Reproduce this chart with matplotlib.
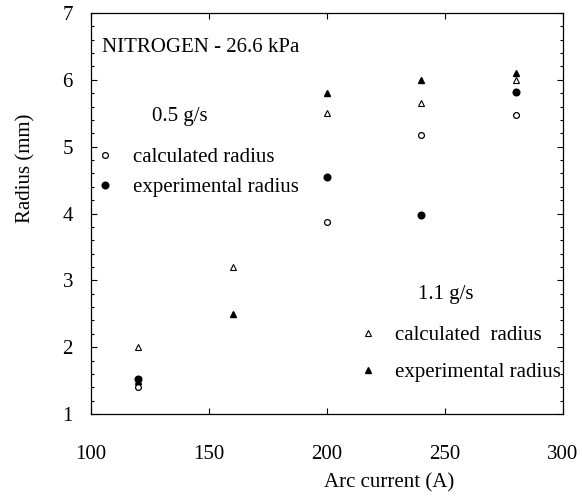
import numpy as np
import matplotlib.pyplot as plt
from matplotlib.ticker import MultipleLocator

plt.rcParams['font.family'] = ['Liberation Serif', 'DejaVu Serif']
plt.rcParams['mathtext.fontset'] = 'stix'

# arc current (A)
current_05 = [120, 200, 240, 280]
current_11 = [120, 160, 200, 240, 280]

# radius (mm), 0.5 g/s
calc_05 = [1.40, 3.87, 5.17, 5.47]
exp_05 = [1.52, 4.55, 3.98, 5.82]

# radius (mm), 1.1 g/s
calc_11 = [2.00, 3.20, 5.50, 5.66, 6.00]
exp_11 = [1.49, 2.50, 5.80, 6.00, 6.10]

x_ticks = [100, 150, 200, 250, 300]
y_ticks = [1, 2, 3, 4, 5, 6, 7]

fs = 15

fig = plt.figure(figsize=(5.82, 4.96), dpi=100)
ax = fig.add_axes([0.1564, 0.1653, 0.8110, 0.8085])

# 0.5 g/s series
l1, = ax.plot(current_05, calc_05, 'o', ms=4.2, mfc='white', mec='black', mew=0.9, ls='none')
l2, = ax.plot(current_05, exp_05, 'o', ms=4.8, mfc='black', mec='black', ls='none')
# 1.1 g/s series
l3, = ax.plot(current_11, calc_11, '^', ms=4.2, mfc='white', mec='black', mew=0.8, ls='none')
l4, = ax.plot(current_11, exp_11, '^', ms=4.8, mfc='black', mec='black', ls='none')

ax.set_xlim(100, 300)
ax.set_ylim(1, 7)
ax.set_xticks(x_ticks)
ax.set_yticks(y_ticks)
ax.yaxis.set_minor_locator(MultipleLocator(0.2))

ax.tick_params(which='both', direction='in', top=True, right=True, width=0.8, labelsize=fs)
ax.tick_params(which='major', length=4.5)
ax.tick_params(which='minor', length=2.2)
ax.tick_params(axis='x', pad=22)
ax.tick_params(axis='y', pad=13)
for s in ax.spines.values():
    s.set_linewidth(0.9)

ax.set_xlabel('Arc current (A)', fontsize=fs)
ax.set_ylabel('Radius (mm)', fontsize=fs)
ax.xaxis.set_label_coords(0.632, -0.147)
ax.yaxis.set_label_coords(-0.118, 0.613)

ax.text(0.023, 0.915, 'NITROGEN - 26.6 kPa', transform=ax.transAxes, fontsize=fs,
        ha='left', va='center')
ax.text(0.129, 0.741, '0.5 g/s', transform=ax.transAxes, fontsize=fs, ha='left', va='center')
ax.text(0.693, 0.297, '1.1 g/s', transform=ax.transAxes, fontsize=fs, ha='left', va='center')

leg1 = ax.legend([l1, l2], ['calculated radius', 'experimental radius'],
                 loc='upper left', bbox_to_anchor=(0.013, 0.664), frameon=False,
                 fontsize=fs, numpoints=1, handlelength=0.8, handletextpad=0.9,
                 labelspacing=0.5, borderpad=0, borderaxespad=0)
ax.add_artist(leg1)
ax.legend([l3, l4], ['calculated  radius', 'experimental radius'],
          loc='upper left', bbox_to_anchor=(0.570, 0.221), frameon=False,
          fontsize=fs, numpoints=1, handlelength=0.8, handletextpad=0.9,
          labelspacing=0.85, borderpad=0, borderaxespad=0)

fig.savefig('out.png', dpi=100)
